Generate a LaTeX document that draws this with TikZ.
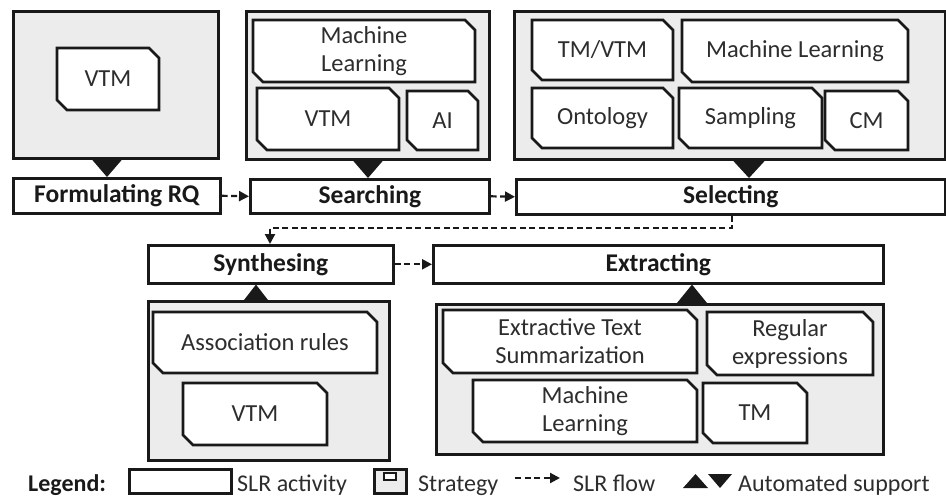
\documentclass[tikz,border=0pt]{standalone}
\usepackage{fontspec}
\setmainfont{Carlito}
\usetikzlibrary{arrows.meta,calc}
\definecolor{panelgray}{RGB}{236,236,236}
\definecolor{ink}{RGB}{25,25,25}
\definecolor{txt}{RGB}{45,45,45}
\newcommand\mybox[6]{\node[#1, minimum width={#4-#2}, minimum height={#5-#3}] (#6) at (#2,#3) {};}
\newcommand\actbox[6]{\node[activity, minimum width={#4-#2}, minimum height={#5-#3}] (#1) at (#2,#3) {#6};}
\newcommand\strat[6]{%
  \draw[stratline] (#2,#3) -- ({#4-10},#3) -- (#4,{#3+10}) -- (#4,#5) -- ({#2+10},#5) -- (#2,{#5-10}) -- cycle;
  \node[strattext] (#1) at ({(#2+#4)/2},{(#3+#5)/2}) {#6};}
\begin{document}
\begin{tikzpicture}[x=1pt,y=-1pt,
  panelbox/.style={draw=ink, line width=2.6pt, fill=panelgray, anchor=north west, inner sep=0pt},
  activity/.style={draw=ink, line width=2.6pt, fill=white, anchor=north west, inner sep=0pt,
    text=ink, font=\fontsize{25.5}{28}\selectfont\bfseries},
  stratline/.style={draw=ink, fill=white, line width=2.8pt, line join=miter},
  strattext/.style={align=center, inner sep=0pt, text=txt, font=\fontsize{24.5}{28}\selectfont},
  flow/.style={draw=ink, line width=2.2pt, dash pattern=on 6pt off 3.5pt,
    -{Triangle[length=10pt,width=10pt]}},
  tri/.style={fill=ink},
  legtext/.style={inner sep=0pt, text=txt, font=\fontsize{24}{28}\selectfont, anchor=base west}]
\useasboundingbox (0,0) rectangle (946,498);

% panels
\mybox{panelbox}{12}{10}{217}{157}{fpanel}
\mybox{panelbox}{245}{10}{488}{158}{spanel}
\mybox{panelbox}{513}{10}{944}{158}{selpanel}
\mybox{panelbox}{147}{300}{388}{459}{synpanel}
\mybox{panelbox}{435}{303}{882}{453}{expanel}

% strategies
\strat{fvtm}{57}{48}{159}{110}{VTM}
\strat{sml}{253}{20}{475}{82}{Machine\\Learning}
\strat{svtm}{257}{88}{399}{150}{VTM}
\strat{sai}{407}{91}{478}{150}{AI}
\strat{ltm}{532}{20}{673}{80}{TM/VTM}
\strat{lml}{682}{20}{908}{82}{Machine Learning}
\strat{lont}{532}{88}{673}{148}{Ontology}
\strat{lsam}{679}{88}{822}{148}{Sampling}
\strat{lcm}{825}{91}{908}{150}{CM}
\strat{yass}{153}{312}{377}{373}{Association rules}
\strat{yvtm}{183}{383}{327}{445}{VTM}
\strat{xets}{443}{310}{697}{373}{Extractive Text\\Summarization}
\strat{xreg}{707}{312}{873}{375}{Regular\\expressions}
\strat{xml}{473}{380}{697}{442}{Machine\\Learning}
\strat{xtm}{703}{383}{807}{443}{TM}

% activities
\actbox{fr}{12}{177}{219}{212}{Formulating RQ}
\actbox{se}{249}{178}{488}{212}{Searching}
\actbox{sel}{515}{178}{944}{213}{Selecting}
\actbox{syn}{147}{244}{392}{282}{Synthesing}
\actbox{ex}{432}{244}{882}{282}{Extracting}

% automated support triangles
\coordinate (k1) at (107,0);
\coordinate (k2) at (368,0);
\coordinate (k3) at (749,0);
\coordinate (k4) at (256,0);
\coordinate (k5) at (692,0);
\fill[tri] ([xshift=-15pt]k1 |- fpanel.south) -- ([xshift=15pt]k1 |- fpanel.south) -- (k1 |- fr.north) -- cycle;
\fill[tri] ([xshift=-15pt]k2 |- spanel.south) -- ([xshift=15pt]k2 |- spanel.south) -- (k2 |- se.north) -- cycle;
\fill[tri] ([xshift=-16pt]k3 |- selpanel.south) -- ([xshift=16pt]k3 |- selpanel.south) -- (k3 |- sel.north) -- cycle;
\fill[tri] ([xshift=-12pt]k4 |- synpanel.north) -- ([xshift=12pt]k4 |- synpanel.north) -- (k4 |- syn.south) -- cycle;
\fill[tri] ([xshift=-15pt]k5 |- expanel.north) -- ([xshift=15pt]k5 |- expanel.north) -- (k5 |- ex.south) -- cycle;

% flows
\draw[flow] (fr.east) -- (se.west);
\draw[flow] (se.east) -- (sel.west);
\coordinate (d1) at (732,228);
\coordinate (d2) at (270,228);
\draw[flow] (d1 |- sel.south) -- (d1) -- (d2) -- (d2 |- syn.north);
\draw[flow] (syn.east) -- (ex.west);

% legend
\node[legtext, font=\fontsize{24}{28}\selectfont\bfseries, text=ink] (lg) at (28,491) {Legend:};
\mybox{activity}{128}{468}{230}{492}{legact}
\node[legtext] (lgact) at (237,491) {SLR activity};
\mybox{panelbox}{373}{468}{405}{492}{legstr}
\node[draw=ink, fill=white, line width=2pt, anchor=north west, inner sep=0pt, minimum width=12pt, minimum height=7pt] (legstrin) at (383,472) {};
\node[legtext] (lgstr) at (418,491) {Strategy};
\coordinate (lf1) at (515,478);
\coordinate (lf2) at (560,478);
\draw[flow] (lf1) -- (lf2);
\node[legtext] (lgflow) at (573,491) {SLR flow};
\fill[tri] (683,488) -- (708,488) -- (695.5,474) -- cycle;
\fill[tri] (708,474) -- (732,474) -- (720,488) -- cycle;
\node[legtext] (lgauto) at (738,491) {Automated support};
\end{tikzpicture}
\end{document}
